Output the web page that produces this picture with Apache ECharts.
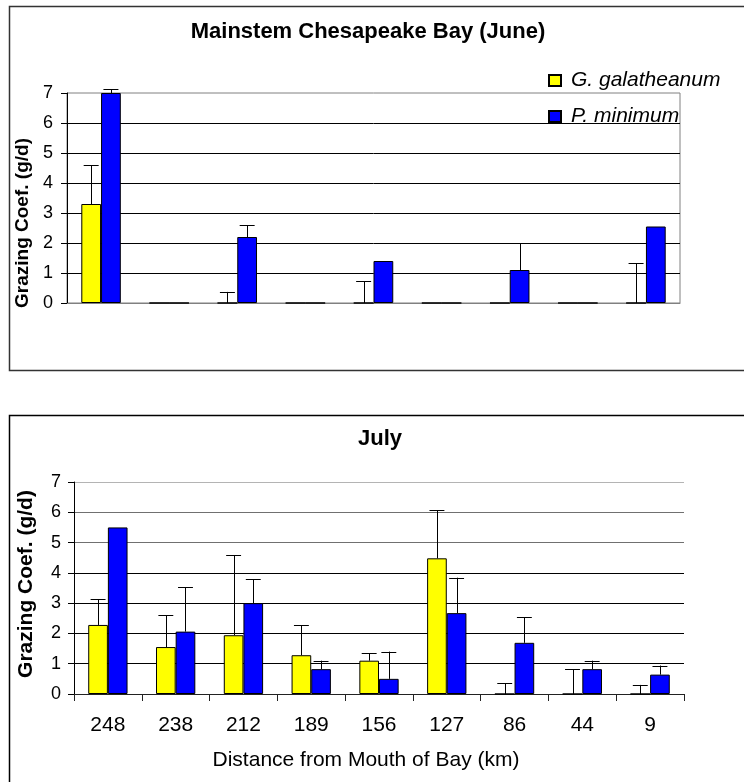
<!DOCTYPE html>
<html>
<head>
<meta charset="utf-8">
<script src="https://cdn.jsdelivr.net/npm/echarts@6/dist/echarts.min.js"></script>
<style>
  html, body { margin: 0; padding: 0; background: #fff; }
  #chart { width: 744px; height: 782px; }
</style>
</head>
<body>
<div id="chart"></div>
<script>
// Stations, listed by distance from the mouth of the bay (km)
const distances = ['248', '238', '212', '189', '156', '127', '86', '44', '9'];
const yTicks = [0, 1, 2, 3, 4, 5, 6, 7];

// June grazing coefficients (g/d) and their upper error bars
const juneGal = [3.3, 0, 0, 0, 0, 0, 0, 0, 0];
const juneGalErr = [1.3, 0, 0.37, 0, 0.72, 0, 0, 0, 1.32];
const juneMin = [7.0, 0, 2.2, 0, 1.4, 0, 1.1, 0, 2.55];
const juneMinErr = [0.12, 0, 0.4, 0, 0, 0, 0.9, 0, 0];

// July grazing coefficients (g/d) and their upper error bars
const julyGal = [2.28, 1.55, 1.94, 1.28, 1.1, 4.48, 0, 0, 0];
const julyGalErr = [0.85, 1.05, 2.65, 0.99, 0.25, 1.59, 0.36, 0.82, 0.3];
const julyMin = [5.5, 2.06, 3.0, 0.82, 0.5, 2.67, 1.69, 0.82, 0.64];
const julyMinErr = [0, 1.46, 0.79, 0.28, 0.9, 1.17, 0.85, 0.28, 0.3];

const GAL = 'G. galatheanum';
const MIN = 'P. minimum';
const FONT = '"Liberation Sans", Arial, sans-serif';
const BAR_FRAC = 0.29;   // bar width as a share of the category band
const CAP_FRAC = 0.11;   // half-width of an error cap as a share of the band

function barSeries(name, values, color, idx) {
  return {
    type: 'bar', name: name, data: values,
    xAxisIndex: idx, yAxisIndex: idx,
    barWidth: (BAR_FRAC * 100) + '%', barGap: '0%',
    itemStyle: { color: color, borderColor: '#000', borderWidth: 1 },
    emphasis: { disabled: true },
    z: 2
  };
}

// Upward error bars drawn over the matching bar of each pair
function errorSeries(values, errs, idx, side) {
  return {
    type: 'custom',
    xAxisIndex: idx, yAxisIndex: idx,
    data: values.map((v, i) => [i, v, errs[i]]),
    encode: { x: 0, y: 1 },
    silent: true, z: 4,
    renderItem: function (params, api) {
      const err = api.value(2);
      if (!err) return null;
      const band = api.size([1, 0])[0];
      const cx = api.coord([api.value(0), 0])[0] + side * band * BAR_FRAC / 2;
      const yb = api.coord([api.value(0), api.value(1)])[1];
      const yt = api.coord([api.value(0), api.value(1) + err])[1];
      const h = band * CAP_FRAC;
      const st = { stroke: '#000', lineWidth: 1 };
      return {
        type: 'group',
        children: [
          { type: 'line', shape: { x1: Math.round(cx) + 0.5, y1: yb, x2: Math.round(cx) + 0.5, y2: yt }, style: st },
          { type: 'line', shape: { x1: cx - h, y1: Math.round(yt) + 0.5, x2: cx + h, y2: Math.round(yt) + 0.5 }, style: st }
        ]
      };
    }
  };
}

function valueAxis(idx, opts) {
  return {
    type: 'value', gridIndex: idx,
    min: yTicks[0], max: yTicks[yTicks.length - 1], interval: 1,
    axisLine: { show: true, lineStyle: { color: '#000', width: 1 } },
    axisTick: { show: true, length: 6, lineStyle: { color: '#000' } },
    axisLabel: { fontFamily: FONT, fontSize: opts.labelSize, color: '#000', margin: opts.labelMargin },
    splitLine: { show: true, showMaxLine: opts.showMax, lineStyle: { color: opts.splitColors, width: 1 } },
    name: 'Grazing Coef. (g/d)',
    nameLocation: 'middle', nameRotate: 90, nameGap: opts.nameGap,
    nameTextStyle: { fontFamily: FONT, fontWeight: 'bold', fontSize: opts.nameSize, color: '#000', padding: opts.namePad }
  };
}

const chart = echarts.init(document.getElementById('chart'), null, { renderer: 'canvas' });

chart.setOption({
  backgroundColor: '#fff',
  animation: false,
  graphic: [
    { type: 'rect', shape: { x: 9.5, y: 6.5, width: 800, height: 364 }, style: { fill: 'none', stroke: '#333', lineWidth: 1.5 }, silent: true, z: -10 },
    { type: 'rect', shape: { x: 9.5, y: 415.5, width: 800, height: 400 }, style: { fill: 'none', stroke: '#000', lineWidth: 1.5 }, silent: true, z: -10 }
  ],
  title: [
    { text: 'Mainstem Chesapeake Bay (June)', left: 363, top: 16, textAlign: 'center',
      textStyle: { fontFamily: FONT, fontWeight: 'bold', fontSize: 22, color: '#000' } },
    { text: 'July', left: 375, top: 423, textAlign: 'center',
      textStyle: { fontFamily: FONT, fontWeight: 'bold', fontSize: 22, color: '#000' } }
  ],
  legend: {
    data: [GAL, MIN],
    icon: 'rect',
    orient: 'vertical', left: 548, top: 70, padding: 0,
    itemWidth: 12, itemHeight: 11, itemGap: 15,
    selectedMode: false,
    textStyle: { fontFamily: FONT, fontStyle: 'italic', fontSize: 21, color: '#000', padding: [0, 0, 0, 5] }
  },
  grid: [
    { left: 67, top: 93, width: 613, height: 210, show: true, borderColor: '#808080', borderWidth: 1, backgroundColor: 'transparent' },
    { left: 74, top: 482, width: 610, height: 212 }
  ],
  xAxis: [
    { type: 'category', gridIndex: 0, data: distances,
      axisLine: { show: true, lineStyle: { color: '#808080' } },
      axisTick: { show: false }, axisLabel: { show: false }, splitLine: { show: false } },
    { type: 'category', gridIndex: 1, data: distances,
      axisLine: { show: true, lineStyle: { color: '#222' } },
      axisTick: { show: true, length: 7, lineStyle: { color: '#222' } },
      axisLabel: { fontFamily: FONT, fontSize: 21, color: '#000', margin: 21 },
      splitLine: { show: false },
      name: 'Distance from Mouth of Bay (km)', nameLocation: 'middle', nameGap: 56,
      nameTextStyle: { fontFamily: FONT, fontSize: 21, color: '#000', padding: [0, 26, 0, 0] } }
  ],
  yAxis: [
    valueAxis(0, { labelSize: 18, labelMargin: 14, showMax: false, nameGap: 32, nameSize: 19, namePad: [0, 50, 0, 0],
      splitColors: ['#000', '#000', '#000', '#000', '#000', '#000', '#000', '#808080'] }),
    valueAxis(1, { labelSize: 18, labelMargin: 13, showMax: true, nameGap: 37, nameSize: 21, namePad: [0, 0, 0, 8],
      splitColors: ['#000', '#000', '#000', '#000', '#000', '#707070', '#707070', '#b4b4b4'] })
  ],
  series: [
    barSeries(GAL, juneGal, '#ffff00', 0),
    barSeries(MIN, juneMin, '#0000ff', 0),
    errorSeries(juneGal, juneGalErr, 0, -1),
    errorSeries(juneMin, juneMinErr, 0, 1),
    barSeries(GAL, julyGal, '#ffff00', 1),
    barSeries(MIN, julyMin, '#0000ff', 1),
    errorSeries(julyGal, julyGalErr, 1, -1),
    errorSeries(julyMin, julyMinErr, 1, 1)
  ]
});
</script>
</body>
</html>
